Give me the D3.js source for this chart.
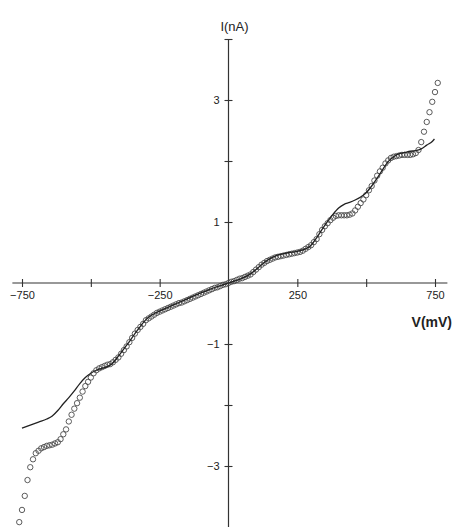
<html>
<head>
<script src="https://cdn.jsdelivr.net/npm/d3@7"></script>
<style>
  body { margin: 0; background: #fff; }
  svg text { font-family: "Liberation Sans", Arial, sans-serif; fill: #222; }
</style>
</head>
<body>
<svg id="chart" width="454" height="527"></svg>
<script>
// measured points (circles): bias in mV, current in nA
var expV = [
  -760,-750,-740,-730,-720,-710,-700,-690,-680,-670,
  -660,-650,-640,-630,-620,-610,-600,-590,-580,-570,
  -560,-550,-540,-530,-520,-510,-500,-490,-480,-470,
  -460,-450,-440,-430,-420,-410,-400,-390,-380,-370,
  -360,-350,-340,-330,-320,-310,-300,-290,-280,-270,
  -260,-250,-240,-230,-220,-210,-200,-190,-180,-170,
  -160,-150,-140,-130,-120,-110,-100,-90,-80,-70,
  -60,-50,-40,-30,-20,-10,0,10,20,30,
  40,50,60,70,80,90,100,110,120,130,
  140,150,160,170,180,190,200,210,220,230,
  240,250,260,270,280,290,300,310,320,330,
  340,350,360,370,380,390,400,410,420,430,
  440,450,460,470,480,490,500,510,520,530,
  540,550,560,570,580,590,600,610,620,630,
  640,650,660,670,680,690,700,710,720,730,
  740,750,760];
var expI = [
  -3.92,-3.72,-3.49,-3.23,-3.02,-2.89,-2.79,-2.75,-2.71,-2.69,
  -2.67,-2.66,-2.65,-2.63,-2.61,-2.56,-2.48,-2.40,-2.27,-2.16,
  -2.06,-1.97,-1.88,-1.78,-1.69,-1.62,-1.55,-1.48,-1.43,-1.40,
  -1.38,-1.36,-1.34,-1.33,-1.30,-1.26,-1.22,-1.16,-1.10,-1.04,
  -0.97,-0.90,-0.83,-0.77,-0.72,-0.67,-0.61,-0.58,-0.55,-0.52,
  -0.49,-0.47,-0.45,-0.43,-0.41,-0.39,-0.37,-0.35,-0.33,-0.32,
  -0.30,-0.28,-0.26,-0.24,-0.22,-0.20,-0.18,-0.16,-0.14,-0.12,
  -0.10,-0.08,-0.07,-0.05,-0.03,-0.02,0.00,0.02,0.03,0.05,
  0.07,0.08,0.10,0.12,0.14,0.18,0.22,0.26,0.30,0.33,
  0.36,0.38,0.40,0.42,0.43,0.44,0.45,0.46,0.47,0.48,
  0.49,0.50,0.51,0.53,0.56,0.59,0.62,0.67,0.72,0.80,
  0.87,0.93,0.98,1.03,1.07,1.10,1.11,1.11,1.11,1.11,
  1.12,1.14,1.19,1.25,1.31,1.37,1.44,1.52,1.59,1.68,
  1.76,1.83,1.89,1.96,2.01,2.05,2.07,2.08,2.09,2.10,
  2.10,2.10,2.10,2.11,2.13,2.18,2.31,2.48,2.64,2.80,
  2.97,3.13,3.28];

// calculated curve (solid line)
var thV = [-750,-720,-690,-660,-640,-620,-600,-580,-560,-540,-520,-500,-480,-460,-440,-420,
  -400,-380,-360,-340,-320,-300,-280,-260,-240,-220,-200,-180,-160,-140,-120,-100,-80,-60,-40,-20,
  0,20,40,60,80,100,120,140,160,180,200,220,240,260,280,300,320,340,360,380,400,420,440,460,480,
  500,520,540,560,580,600,620,640,660,680,700,720,740,748];
var thI = [-2.38,-2.33,-2.28,-2.23,-2.18,-2.09,-1.98,-1.88,-1.77,-1.65,-1.55,-1.48,-1.43,-1.40,-1.37,-1.31,
  -1.20,-1.08,-0.96,-0.83,-0.71,-0.60,-0.53,-0.48,-0.44,-0.40,-0.36,-0.32,-0.28,-0.24,-0.20,-0.16,-0.13,-0.09,-0.06,-0.03,
  0,0.03,0.06,0.10,0.15,0.22,0.30,0.37,0.42,0.46,0.48,0.50,0.51,0.53,0.56,0.62,0.74,0.88,1.01,1.13,1.23,1.29,1.32,1.36,1.41,
  1.48,1.59,1.72,1.86,1.99,2.07,2.12,2.14,2.16,2.17,2.20,2.26,2.32,2.36];

var xTicks = [-750, -500, -250, 250, 500, 750];
var xTickText = ["\u2212750", "", "\u2212250", "250", "", "750"];
var yTicks = [-3, -2, -1, 1, 2, 3, 4];
var yTickText = ["\u22123", "", "\u22121", "1", "", "3", ""];

var svg = d3.select("#chart");
var x = d3.scaleLinear().domain([-750, 750]).range([22, 435]);
var y = d3.scaleLinear().domain([-4, 4]).range([527, 39]);

// axis lines
svg.append("line")
  .attr("x1", x(-785)).attr("x2", x(795))
  .attr("y1", y(0)).attr("y2", y(0))
  .attr("stroke", "#333").attr("stroke-width", 1.2);
svg.append("line")
  .attr("x1", x(0)).attr("x2", x(0))
  .attr("y1", y(4)).attr("y2", y(-4))
  .attr("stroke", "#333").attr("stroke-width", 1.2);

var gx = svg.append("g")
  .attr("transform", "translate(0," + y(0) + ")")
  .call(d3.axisBottom(x).tickValues(xTicks).tickSize(4).tickPadding(4)
    .tickFormat(function (d, i) { return xTickText[i]; }));
gx.select(".domain").remove();
gx.selectAll(".tick line").attr("y1", -4).attr("stroke", "#333").attr("stroke-width", 1.1);
gx.selectAll(".tick text").attr("font-size", 11).attr("font-family", null);

var gy = svg.append("g")
  .attr("transform", "translate(" + x(0) + ",0)")
  .call(d3.axisLeft(y).tickValues(yTicks).tickSize(4).tickPadding(5)
    .tickFormat(function (d, i) { return yTickText[i]; }));
gy.select(".domain").remove();
gy.selectAll(".tick line").attr("x1", 4).attr("stroke", "#333").attr("stroke-width", 1.1);
gy.selectAll(".tick text").attr("font-size", 11).attr("font-family", null);

// axis titles
svg.append("text").attr("x", x(0) + 6).attr("y", 31)
  .attr("text-anchor", "middle").attr("font-size", 13)
  .text("I(nA)");
svg.append("text").attr("x", 452).attr("y", 327)
  .attr("text-anchor", "end").attr("font-size", 14).attr("font-weight", "bold")
  .text("V(mV)");

// measured circles
svg.append("g").selectAll("circle")
  .data(expV)
  .enter().append("circle")
  .attr("cx", function (d) { return x(d); })
  .attr("cy", function (d, i) { return y(expI[i]); })
  .attr("r", 2.7)
  .attr("fill", "none")
  .attr("stroke", "#4a4a4a")
  .attr("stroke-width", 0.9);

// theory line
var line = d3.line()
  .x(function (d) { return x(d); })
  .y(function (d, i) { return y(thI[i]); })
  .curve(d3.curveMonotoneX);
svg.append("path")
  .attr("d", line(thV))
  .attr("fill", "none")
  .attr("stroke", "#222")
  .attr("stroke-width", 1.3);
</script>
</body>
</html>
